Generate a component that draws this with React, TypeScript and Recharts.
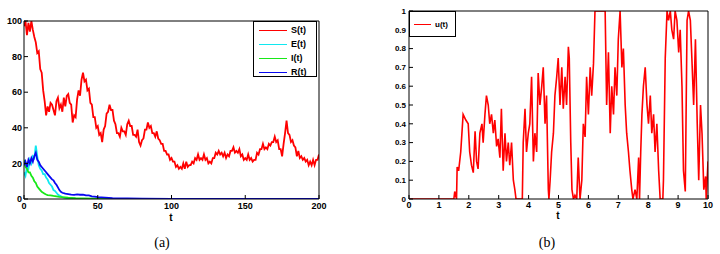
import React from 'react'
import { LineChart, Line, XAxis, YAxis } from 'recharts'

const sValues = [
  97, 100, 92, 99, 94, 100, 95, 91, 88, 82, 83, 73, 71, 61, 55, 47, 52, 49, 54, 53,
  50, 47, 55, 57, 51, 53, 49, 57, 52, 58, 59, 54, 53, 43, 47, 46, 56, 61, 58, 67,
  71, 66, 67, 61, 62, 54, 53, 46, 46, 40, 41, 36, 37, 32, 39, 41, 48, 49, 53, 50,
  50, 44, 42, 37, 37, 35, 40, 38, 38, 36, 42, 44, 41, 41, 36, 36, 35, 39, 32, 30,
  33, 34, 39, 39, 43, 40, 41, 37, 37, 35, 38, 34, 33, 31, 31, 27, 27, 25, 25, 22,
  23, 21, 21, 18, 19, 17, 18, 17, 20, 17, 21, 18, 19, 19, 21, 20, 23, 22, 25, 22,
  23, 22, 25, 22, 23, 20, 21, 20, 23, 23, 26, 25, 27, 25, 26, 24, 26, 23, 25, 24,
  27, 27, 29, 26, 27, 26, 28, 24, 25, 22, 23, 22, 25, 22, 23, 21, 22, 22, 26, 25,
  28, 28, 31, 28, 29, 28, 31, 30, 32, 32, 35, 32, 33, 28, 28, 24, 31, 37, 44, 37,
  36, 32, 33, 30, 29, 24, 27, 23, 24, 22, 23, 21, 22, 19, 21, 19, 22, 19, 22, 22,
  25,
]

const eTimes = [0, 1, 2, 3, 4, 5, 6, 7, 8, 9, 10, 11, 12, 13, 14, 15, 16, 17, 18, 19, 20, 21, 22, 23, 24, 25, 26, 28, 30, 35, 45, 60, 200]
const eValues = [15, 13, 18, 17, 22, 20, 24, 23, 30, 24, 19, 17, 16, 14, 14, 12, 11, 9, 8, 7, 5, 4.5, 3.5, 2.5, 2, 1.5, 1, 0.6, 0.4, 0.2, 0.1, 0, 0]

const iTimes = [0, 1, 2, 3, 4, 5, 6, 7, 8, 9, 10, 11, 12, 13, 14, 15, 16, 18, 20, 22, 24, 26, 30, 35, 40, 50, 60, 80, 200]
const iValues = [22, 18, 17, 15, 15, 13, 12, 10, 9, 7, 6, 5, 4, 3.5, 3, 2.5, 2.2, 2, 1.7, 1.5, 1.2, 1, 0.7, 0.5, 0.4, 0.2, 0.1, 0, 0]

const rTimes = [0, 1, 2, 3, 4, 5, 6, 7, 8, 9, 10, 11, 12, 13, 14, 15, 16, 17, 18, 19, 20, 21, 22, 23, 24, 25, 26, 28, 30, 32, 34, 36, 38, 40, 42, 44, 46, 48, 50, 55, 60, 65, 70, 80, 100, 200]
const rValues = [19, 21, 18, 22, 20, 23, 21, 24, 26, 22, 21, 19, 18, 17, 16, 15, 14, 13, 12, 11, 10.5, 9, 8, 6.5, 5, 4, 3.5, 3, 2.8, 2.5, 2.3, 2.6, 2.4, 2.5, 2, 2, 1.5, 1.3, 1, 0.8, 0.5, 0.4, 0.3, 0.2, 0.1, 0]

// (b) u(t)
const uTimes = [
  0, 1.5, 1.53, 1.59, 1.61, 1.66, 1.73, 1.81, 1.9, 1.98, 2.03, 2.09, 2.15, 2.21, 2.26, 2.31, 2.37, 2.44, 2.48, 2.54,
  2.59, 2.65, 2.7, 2.76, 2.82, 2.87, 2.93, 2.98, 3.04, 3.09, 3.15, 3.21, 3.26, 3.32, 3.37, 3.43, 3.49, 3.54, 3.58, 3.79,
  3.82, 3.88, 3.93, 3.99, 4.04, 4.1, 4.16, 4.21, 4.27, 4.32, 4.38, 4.44, 4.49, 4.55, 4.6, 4.66, 4.68, 4.72, 4.77, 4.83,
  4.88, 4.94, 4.99, 5.05, 5.11, 5.16, 5.22, 5.27, 5.33, 5.36, 5.41, 5.45, 5.5, 5.55, 5.61, 5.66, 5.72, 5.78, 5.83, 5.89,
  5.94, 6.0, 6.06, 6.11, 6.17, 6.22, 6.4, 6.56, 6.61, 6.67, 6.73, 6.78, 6.84, 6.89, 6.95, 7.0, 7.06, 7.12, 7.17, 7.23,
  7.28, 7.34, 7.39, 7.45, 7.49, 7.56, 7.62, 7.68, 7.71, 7.75, 7.79, 7.84, 7.9, 7.96, 8.01, 8.07, 8.12, 8.18, 8.23, 8.29,
  8.35, 8.4, 8.49, 8.51, 8.57, 8.63, 8.68, 8.74, 8.79, 8.85, 8.9, 8.96, 9.02, 9.07, 9.13, 9.18, 9.24, 9.3, 9.35, 9.41,
  9.46, 9.52, 9.58, 9.64, 9.69, 9.75, 9.8, 9.86, 9.92, 9.94, 10,
]
const uValues = [
  0, 0, 0.04, 0, 0.17, 0.15, 0.25, 0.45, 0.42, 0.4, 0.25, 0.18, 0.14, 0.36, 0.2, 0.16, 0.35, 0.4, 0.3, 0.45,
  0.55, 0.5, 0.4, 0.45, 0.35, 0.42, 0.28, 0.32, 0.22, 0.48, 0.15, 0.35, 0.2, 0.3, 0.18, 0.3, 0.1, 0.05, 0, 0,
  0.3, 0.48, 0.25, 0.35, 0.4, 0.65, 0.2, 0.35, 0.25, 0.67, 0.5, 0.6, 0.7, 0.4, 0.55, 0.05, 0, 0.1, 0.25, 0.35,
  0.55, 0.65, 0.75, 0.5, 0.7, 0.48, 0.65, 0.5, 0.81, 0.75, 0.3, 0.05, 0, 0.02, 0, 0.22, 0, 0.1, 0.4, 0.33,
  0.65, 0.45, 0.7, 0.55, 0.72, 1, 1, 1, 0.5, 0.78, 0.35, 0.6, 0.45, 0.7, 0.55, 0.85, 1, 0.7, 0.8, 0.5,
  0.35, 0.25, 0.15, 0.05, 0, 0.05, 0, 0.22, 0, 0.25, 0.45, 0.6, 0.7, 0.5, 0.4, 0.55, 0.35, 0.45, 0.25, 0.4,
  0.15, 0, 0, 0.1, 0.75, 1, 0.95, 1, 0.9, 0.85, 1, 0.95, 0.78, 0.9, 0.6, 0.15, 0.04, 0.95, 1, 0.95,
  0.75, 0.5, 0.85, 0.4, 0.1, 0.5, 0.35, 0.05, 0.12, 0, 0.2,
]

const leftXTicks = [0, 50, 100, 150, 200]
const leftYTicks = [0, 20, 40, 60, 80, 100]
const rightXTicks = [0, 1, 2, 3, 4, 5, 6, 7, 8, 9, 10]
const rightYTicks = [0, 0.1, 0.2, 0.3, 0.4, 0.5, 0.6, 0.7, 0.8, 0.9, 1]

const sData = sValues.map((v, i) => ({ t: i, v }))
const eData = eTimes.map((t, i) => ({ t, v: eValues[i] }))
const iData = iTimes.map((t, i) => ({ t, v: iValues[i] }))
const rData = rTimes.map((t, i) => ({ t, v: rValues[i] }))
const uData = uTimes.map((t, i) => ({ t, v: uValues[i] }))

const font = '"Liberation Sans", Arial, sans-serif'
const serif = '"Liberation Serif", "Times New Roman", "DejaVu Serif", serif'
const tickStyle = { fontSize: 9, fill: '#000', fontFamily: font, fontWeight: 'bold' }
const smallTick = { ...tickStyle, fontSize: 8 }

const legendRow = (color: string, label: string, lineW: number) => (
  <div key={label} style={{ display: 'flex', alignItems: 'center', height: 14 }}>
    <div style={{ width: lineW, borderTop: `1.5px solid ${color}`, marginRight: 4 }} />
    <span>{label}</span>
  </div>
)

export default function App() {
  return (
    <div style={{ position: 'absolute', left: 0, top: 0, width: 720, height: 254, background: '#fff', overflow: 'hidden' }}>
      {/* (a) */}
      <div style={{ position: 'absolute', left: 0, top: 0 }}>
        <LineChart width={360} height={254} margin={{ top: 20, right: 40, left: 0, bottom: 25 }}>
          <XAxis xAxisId="b" dataKey="t" type="number" domain={[0, 200]} ticks={leftXTicks} allowDataOverflow
            height={30} tickSize={-4} tickMargin={8} tick={tickStyle} stroke="#000" interval={0} />
          <XAxis xAxisId="top" orientation="top" type="number" domain={[0, 200]} ticks={leftXTicks} allowDataOverflow
            height={1} tickSize={-4} tick={false} stroke="#000" />
          <YAxis yAxisId="l" type="number" domain={[0, 100]} ticks={leftYTicks} allowDataOverflow
            width={24} tickSize={-4} tickMargin={6} tick={tickStyle} stroke="#000" interval={0} />
          <YAxis yAxisId="r" orientation="right" type="number" domain={[0, 100]} ticks={leftYTicks} allowDataOverflow
            width={1} tickSize={-4} tick={false} stroke="#000" />
          <Line xAxisId="b" yAxisId="l" data={sData} dataKey="v" stroke="#ff0000" strokeWidth={1.8} dot={false} isAnimationActive={false} />
          <Line xAxisId="b" yAxisId="l" data={eData} dataKey="v" stroke="#10e8f0" strokeWidth={1.8} dot={false} isAnimationActive={false} />
          <Line xAxisId="b" yAxisId="l" data={iData} dataKey="v" stroke="#18e818" strokeWidth={1.8} dot={false} isAnimationActive={false} />
          <Line xAxisId="b" yAxisId="l" data={rData} dataKey="v" stroke="#0808f0" strokeWidth={1.8} dot={false} isAnimationActive={false} />
        </LineChart>
      </div>
      <div style={{ position: 'absolute', left: 253, top: 21, width: 64, height: 56, border: '1px solid #000', background: '#fff',
        fontFamily: font, fontSize: 9, fontWeight: 'bold', paddingLeft: 5, paddingTop: 1, boxSizing: 'border-box' }}>
        {legendRow('#ff0000', 'S(t)', 28)}
        {legendRow('#10e8f0', 'E(t)', 28)}
        {legendRow('#18e818', 'I(t)', 28)}
        {legendRow('#0808f0', 'R(t)', 28)}
      </div>
      <div style={{ position: 'absolute', left: 161, top: 213, width: 20, textAlign: 'center', fontFamily: font, fontSize: 10, fontWeight: 'bold', lineHeight: '10px' }}>t</div>
      <div style={{ position: 'absolute', left: 142, top: 236, width: 40, textAlign: 'center', fontFamily: serif, fontSize: 14, lineHeight: '14px' }}>(a)</div>

      {/* (b) */}
      <div style={{ position: 'absolute', left: 360, top: 0 }}>
        <LineChart width={360} height={254} margin={{ top: 10, right: 11, left: 19, bottom: 25 }}>
          <XAxis xAxisId="b" dataKey="t" type="number" domain={[0, 10]} ticks={rightXTicks} allowDataOverflow
            height={30} tickSize={-4} tickMargin={7} tick={tickStyle} stroke="#000" interval={0} />
          <XAxis xAxisId="top" orientation="top" type="number" domain={[0, 10]} ticks={rightXTicks} allowDataOverflow
            height={1} tickSize={-4} tick={false} stroke="#000" />
          <YAxis yAxisId="l" type="number" domain={[0, 1]} ticks={rightYTicks} allowDataOverflow
            width={30} tickSize={-4} tickMargin={7} tick={smallTick} stroke="#000" interval={0} />
          <YAxis yAxisId="r" orientation="right" type="number" domain={[0, 1]} ticks={rightYTicks} allowDataOverflow
            width={1} tickSize={-4} tick={false} stroke="#000" />
          <Line xAxisId="b" yAxisId="l" data={uData} dataKey="v" stroke="#ff0000" strokeWidth={1.6} dot={false} isAnimationActive={false} />
        </LineChart>
      </div>
      <div style={{ position: 'absolute', left: 409, top: 11, width: 47, height: 26, border: '1px solid #000', background: '#fff',
        fontFamily: font, fontSize: 8, fontWeight: 'bold', paddingLeft: 4, paddingTop: 5, boxSizing: 'border-box' }}>
        {legendRow('#ff0000', 'u(t)', 17)}
      </div>
      <div style={{ position: 'absolute', left: 548, top: 211, width: 20, textAlign: 'center', fontFamily: font, fontSize: 10, fontWeight: 'bold', lineHeight: '10px' }}>t</div>
      <div style={{ position: 'absolute', left: 527, top: 236, width: 40, textAlign: 'center', fontFamily: serif, fontSize: 14, lineHeight: '14px' }}>(b)</div>
    </div>
  )
}
